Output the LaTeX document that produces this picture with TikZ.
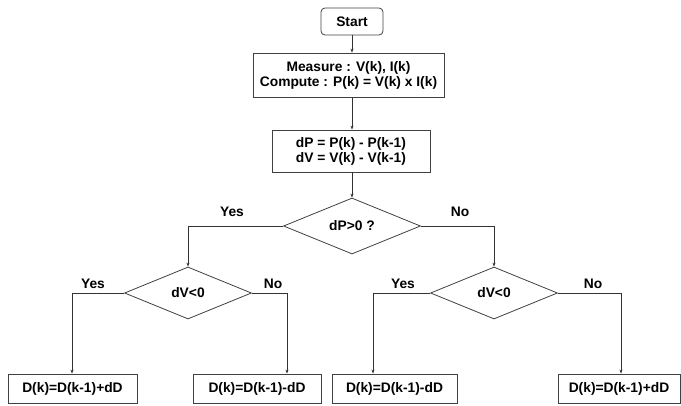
\documentclass[tikz,border=0pt]{standalone}
\usepackage{fontspec}
\setmainfont{Liberation Sans}
\usetikzlibrary{shapes.geometric,arrows.meta}
\begin{document}
\begin{tikzpicture}[x=1pt,y=-1pt,
  every node/.style={font=\bfseries\fontsize{13.8}{16}\selectfont},
  box/.style={draw=black!75, line width=0.8pt, rectangle, inner sep=0pt, align=center},
  dec/.style={draw=black!75, line width=0.8pt, diamond, inner sep=0pt, aspect=2.45},
  lbl/.style={inner sep=0pt},
  arr/.style={draw=black!80, line width=0.8pt, -{Stealth[length=4pt,width=3pt]}},
  ln/.style={draw=black!80, line width=0.8pt}]
\useasboundingbox (0,0) rectangle (681,405);
\node[box, rounded corners=4pt, minimum width=62pt, minimum height=27pt] (start) at (352,21.5) {Start};
\node[box, minimum width=191pt, minimum height=44pt] (meas) at (348.5,75) {Measure : V(k), I(k)\\[-1pt]Compute : P(k) = V(k) x I(k)};
\node[box, minimum width=158pt, minimum height=42pt] (dp) at (351,151) {dP = P(k) - P(k-1)\\[-1pt]dV = V(k) - V(k-1)};
\node[dec, minimum width=137pt, minimum height=56pt] (d1) at (352,226) {dP>0 ?};
\node[dec, minimum width=127pt, minimum height=52pt] (d2) at (188,293) {dV<0};
\node[dec, minimum width=127pt, minimum height=52pt] (d3) at (494,293) {dV<0};
\node[box, minimum width=129pt, minimum height=29pt] (b1) at (72.5,388.5) {D(k)=D(k-1)+dD};
\node[box, minimum width=128pt, minimum height=29pt] (b2) at (257,388.5) {D(k)=D(k-1)-dD};
\node[box, minimum width=125pt, minimum height=29pt] (b3) at (394.5,388.5) {D(k)=D(k-1)-dD};
\node[box, minimum width=122pt, minimum height=29pt] (b4) at (619,388.5) {D(k)=D(k-1)+dD};
\coordinate (x1) at (72,0);
\coordinate (x2) at (287,0);
\coordinate (x3) at (373,0);
\coordinate (x4) at (621,0);
\coordinate (xc) at (352,0);
\draw[arr] (xc |- start.south) -- (xc |- meas.north);
\draw[arr] (xc |- meas.south) -- (xc |- dp.north);
\draw[arr] (xc |- dp.south) -- (d1.north);
\draw[arr] (d1.west) -| (d2.north);
\draw[arr] (d1.east) -| (d3.north);
\draw[arr] (d2.west) -| (x1 |- b1.north);
\draw[arr] (d2.east) -| (x2 |- b2.north);
\draw[arr] (d3.west) -| (x3 |- b3.north);
\draw[arr] (d3.east) -| (x4 |- b4.north);
\node[lbl] (y1) at (232,212) {Yes};
\node[lbl] (n1) at (460,212) {No};
\node[lbl] (y2) at (93,284) {Yes};
\node[lbl] (n2) at (273,284) {No};
\node[lbl] (y3) at (403,284) {Yes};
\node[lbl] (n3) at (593,284) {No};
\end{tikzpicture}
\end{document}
